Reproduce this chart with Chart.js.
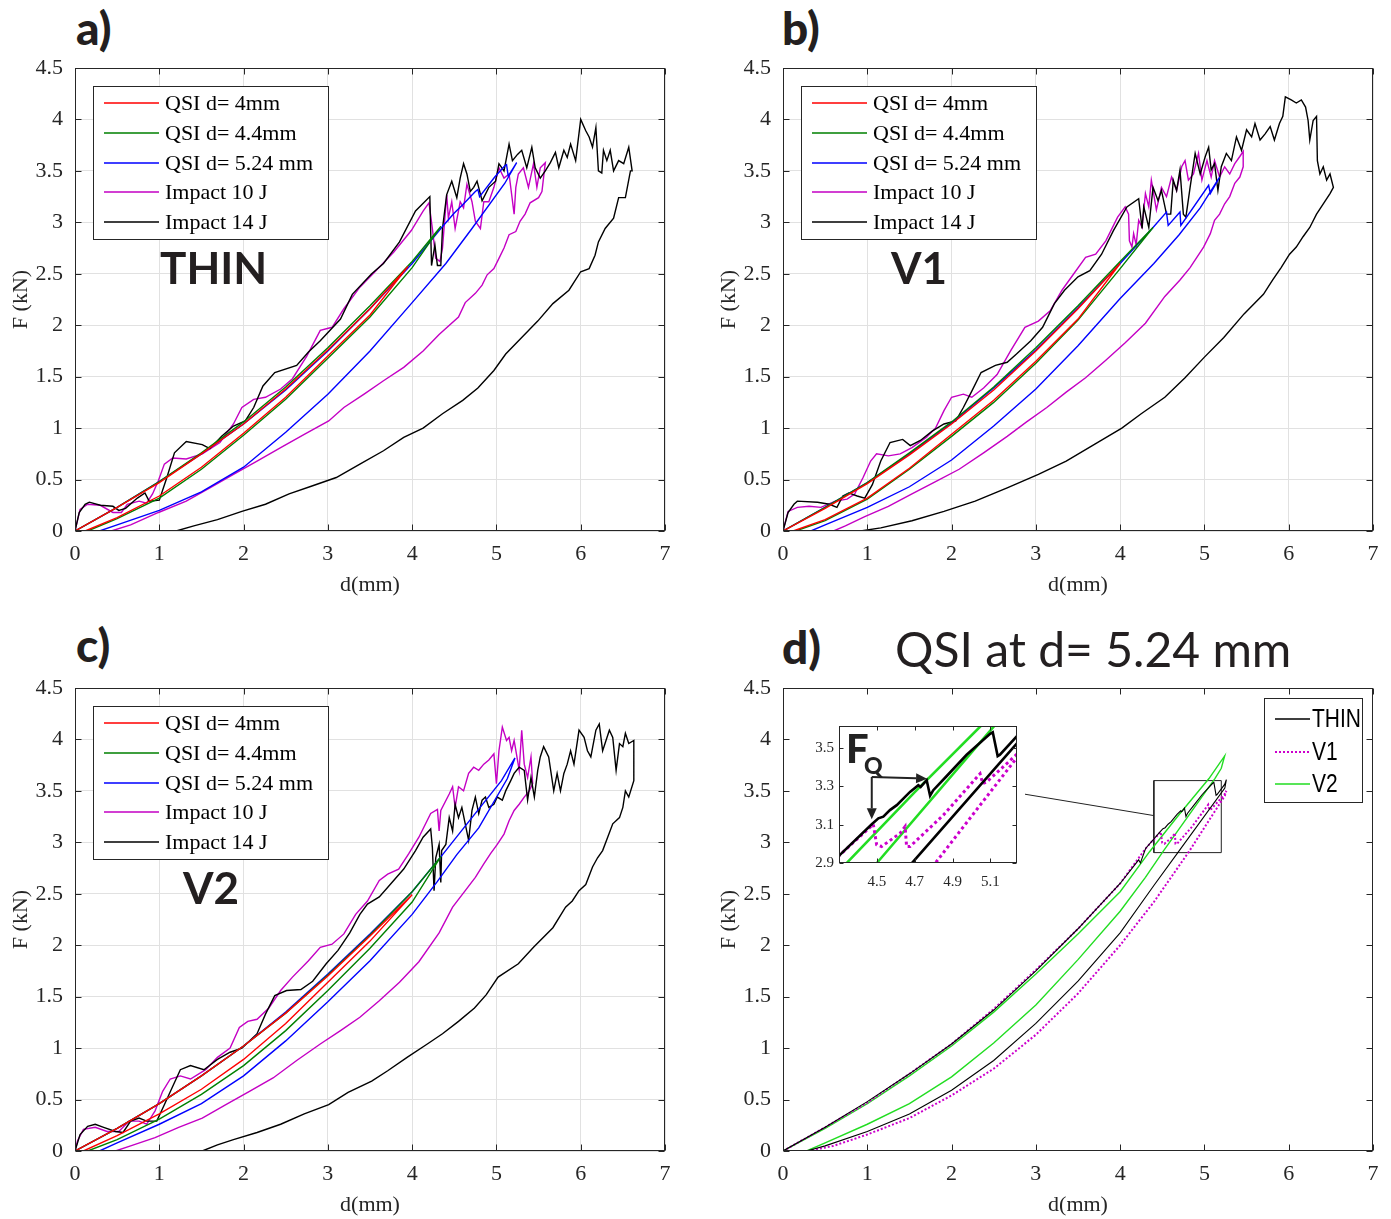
<!DOCTYPE html>
<html>
<head>
<meta charset="utf-8">
<script src="https://cdn.jsdelivr.net/npm/chart.js@4.4.1/dist/chart.umd.min.js"></script>
<style>
  html, body { margin: 0; padding: 0; background: #fff; }
  #page { position: relative; width: 1391px; height: 1219px; overflow: hidden; background: #fff; }
  canvas { position: absolute; }
  .lbl { position: absolute; font-family: Lato, "Open Sans", sans-serif; font-weight: 700; font-size: 44px; line-height: 1; color: #231f20; white-space: nowrap; }
  .tag { font-weight: 900; font-size: 46px; }
  .ttl { font-weight: 400; font-size: 48px; }
</style>
</head>
<body>
<div id="page">
  <canvas id="chartA" width="680" height="560" style="left:0;top:56px"></canvas>
  <canvas id="chartB" width="680" height="560" style="left:708px;top:56px"></canvas>
  <canvas id="chartC" width="680" height="560" style="left:0;top:676px"></canvas>
  <canvas id="chartD" width="680" height="560" style="left:708px;top:676px"></canvas>
  <canvas id="inset" width="220" height="178" style="left:805px;top:722px"></canvas>
  <div class="lbl tag" style="left:76px;top:5px">a)</div>
  <div class="lbl tag" style="left:782px;top:5px">b)</div>
  <div class="lbl tag" style="left:76px;top:622px">c)</div>
  <div class="lbl tag" style="left:782px;top:624px">d)</div>
  <div class="lbl ttl" style="left:895px;top:625px">QSI at d= 5.24 mm</div>
  <div class="lbl" style="left:160px;top:245px">THIN</div>
  <div class="lbl" style="left:891px;top:245px">V1</div>
  <div class="lbl" style="left:183px;top:865px">V2</div>
</div>
<script>
// ---- data: d (mm), F (kN) ----
// a) THIN
const thinQsi4 = [[0,0],[0.5,0.23],[1,0.47],[1.5,0.75],[2,1.04],[2.5,1.38],[3,1.76],[3.5,2.16],[3.95,2.57],[3.5,2.1],[3,1.7],[2.5,1.3],[2,0.95],[1.5,0.62],[1,0.34],[0.5,0.13],[0.12,0]];
const thinQsi44 = [[0,0],[0.5,0.23],[1,0.48],[1.5,0.76],[2,1.06],[2.5,1.4],[3,1.78],[3.5,2.19],[4,2.62],[4.34,2.96],[4,2.56],[3.5,2.08],[3,1.68],[2.5,1.28],[2,0.93],[1.5,0.6],[1,0.32],[0.5,0.12],[0.15,0]];
const thinQsi524 = [[0,0],[0.5,0.23],[1,0.48],[1.5,0.75],[2,1.04],[2.5,1.37],[3,1.75],[3.5,2.16],[4,2.6],[4.34,2.94],[4.5,3.09],[4.6,3.17],[4.75,3.3],[4.78,3.32],[4.8,3.25],[4.98,3.44],[5.1,3.55],[5.12,3.56],[5.14,3.45],[5.24,3.58],[5.1,3.38],[4.71,2.94],[4.4,2.6],[4,2.22],[3.5,1.75],[3,1.33],[2.5,0.96],[2,0.62],[1.5,0.38],[1,0.2],[0.5,0.06],[0.29,0]];
const thinImp10 = [[0,0],[0.06,0.21],[0.15,0.26],[0.3,0.25],[0.45,0.18],[0.55,0.18],[0.62,0.26],[0.76,0.29],[0.85,0.27],[0.92,0.36],[0.99,0.49],[1.06,0.65],[1.16,0.71],[1.32,0.7],[1.51,0.75],[1.72,0.86],[1.88,1.04],[1.98,1.2],[2.12,1.28],[2.26,1.3],[2.44,1.38],[2.58,1.48],[2.75,1.7],[2.91,1.95],[3.05,1.98],[3.19,2.16],[3.38,2.37],[3.57,2.53],[3.78,2.71],[3.99,2.92],[4.13,3.11],[4.2,3.19],[4.24,2.94],[4.28,2.65],[4.33,2.62],[4.36,2.75],[4.41,3.27],[4.43,3.04],[4.47,3.2],[4.51,2.94],[4.57,3.2],[4.61,3.14],[4.65,3.37],[4.71,3.2],[4.75,3.01],[4.81,2.94],[4.85,3.2],[4.91,3.2],[4.97,3.34],[5.03,3.53],[5.09,3.43],[5.15,3.47],[5.21,3.08],[5.23,3.34],[5.26,3.47],[5.32,3.53],[5.38,3.34],[5.44,3.57],[5.48,3.34],[5.52,3.53],[5.58,3.58],[5.54,3.3],[5.5,3.24],[5.4,3.19],[5.34,3.08],[5.28,3.01],[5.23,2.91],[5.15,2.88],[5.09,2.75],[5.03,2.65],[4.97,2.55],[4.89,2.49],[4.83,2.39],[4.75,2.31],[4.63,2.22],[4.55,2.08],[4.32,1.91],[4.13,1.75],[3.9,1.59],[3.66,1.46],[3.43,1.33],[3.19,1.2],[3.01,1.07],[2.72,0.94],[2.44,0.81],[2.16,0.68],[1.88,0.55],[1.6,0.42],[1.32,0.29],[0.99,0.18],[0.66,0.06],[0.43,0]];
const thinImp14 = [[0,0],[0.05,0.18],[0.12,0.26],[0.17,0.28],[0.3,0.25],[0.45,0.24],[0.52,0.2],[0.6,0.22],[0.74,0.32],[0.83,0.37],[0.88,0.29],[1.0,0.3],[1.09,0.52],[1.18,0.76],[1.32,0.87],[1.51,0.84],[1.6,0.8],[1.74,0.92],[1.88,1.02],[2.02,1.07],[2.12,1.2],[2.23,1.41],[2.37,1.54],[2.63,1.61],[2.77,1.74],[2.91,1.85],[3.15,2.06],[3.29,2.3],[3.52,2.5],[3.66,2.6],[3.85,2.81],[4.04,3.11],[4.21,3.25],[4.23,2.58],[4.27,2.78],[4.3,2.58],[4.34,2.58],[4.36,2.94],[4.41,3.27],[4.47,3.4],[4.53,3.24],[4.57,3.43],[4.61,3.57],[4.65,3.47],[4.69,3.3],[4.73,3.34],[4.77,3.4],[4.83,3.21],[4.91,3.34],[4.99,3.4],[5.03,3.57],[5.09,3.5],[5.15,3.76],[5.19,3.6],[5.25,3.66],[5.3,3.7],[5.36,3.53],[5.42,3.73],[5.46,3.53],[5.52,3.43],[5.58,3.5],[5.64,3.58],[5.7,3.68],[5.74,3.53],[5.8,3.7],[5.84,3.63],[5.88,3.76],[5.94,3.6],[6.0,4.0],[6.06,3.89],[6.1,3.83],[6.14,3.73],[6.18,3.92],[6.21,3.5],[6.25,3.48],[6.27,3.7],[6.31,3.6],[6.35,3.7],[6.39,3.5],[6.45,3.6],[6.51,3.57],[6.57,3.73],[6.61,3.5],[6.59,3.5],[6.53,3.24],[6.45,3.24],[6.39,3.04],[6.29,2.94],[6.21,2.81],[6.17,2.68],[6.1,2.55],[6.0,2.52],[5.86,2.34],[5.67,2.21],[5.49,2.04],[5.3,1.88],[5.11,1.72],[4.97,1.56],[4.78,1.39],[4.6,1.27],[4.36,1.14],[4.13,1.0],[3.9,0.91],[3.66,0.78],[3.38,0.65],[3.1,0.52],[2.82,0.44],[2.54,0.36],[2.26,0.26],[1.98,0.19],[1.69,0.11],[1.41,0.05],[1.2,0]];

// b) V1
const v1Qsi4 = [[0,0],[0.5,0.22],[1,0.46],[1.5,0.74],[2,1.04],[2.5,1.37],[3,1.75],[3.5,2.16],[4,2.6],[3.5,2.06],[3,1.65],[2.5,1.27],[2,0.94],[1.5,0.61],[1,0.32],[0.5,0.11],[0.12,0]];
const v1Qsi44 = [[0,0],[0.5,0.23],[1,0.47],[1.5,0.76],[2,1.06],[2.5,1.4],[3,1.78],[3.5,2.19],[4,2.62],[4.39,2.95],[4,2.55],[3.5,2.05],[3,1.63],[2.5,1.25],[2,0.92],[1.5,0.6],[1,0.31],[0.5,0.1],[0.15,0]];
const v1Qsi524 = [[0,0],[0.5,0.23],[1,0.47],[1.5,0.75],[2,1.05],[2.5,1.39],[3,1.76],[3.5,2.17],[4,2.6],[4.39,2.95],[4.55,3.1],[4.57,2.97],[4.71,3.1],[4.72,2.97],[5.05,3.36],[5.07,3.28],[5.18,3.44],[4.95,3.14],[4.7,2.88],[4.4,2.6],[4,2.26],[3.5,1.8],[3,1.38],[2.5,1.02],[2,0.69],[1.5,0.43],[1,0.23],[0.5,0.06],[0.33,0]];
const v1Imp10 = [[0,0],[0.06,0.19],[0.17,0.23],[0.31,0.24],[0.45,0.23],[0.62,0.29],[0.76,0.31],[0.85,0.36],[0.95,0.52],[1.04,0.68],[1.11,0.75],[1.25,0.73],[1.39,0.75],[1.53,0.81],[1.7,0.91],[1.81,1.0],[1.91,1.17],[2.0,1.3],[2.14,1.33],[2.24,1.3],[2.38,1.39],[2.54,1.52],[2.7,1.75],[2.87,1.98],[3.03,2.04],[3.17,2.14],[3.31,2.34],[3.45,2.5],[3.59,2.66],[3.71,2.69],[3.83,2.82],[3.97,3.05],[4.06,3.15],[4.1,3.08],[4.11,2.82],[4.14,2.76],[4.16,2.89],[4.19,2.78],[4.22,3.02],[4.26,2.95],[4.3,3.28],[4.34,3.15],[4.37,3.41],[4.43,3.12],[4.49,3.34],[4.55,3.25],[4.61,3.44],[4.67,3.31],[4.73,3.54],[4.77,3.6],[4.81,3.41],[4.87,3.47],[4.93,3.67],[4.97,3.41],[5.03,3.6],[5.08,3.44],[5.12,3.6],[5.18,3.44],[5.24,3.54],[5.3,3.47],[5.36,3.57],[5.42,3.64],[5.46,3.69],[5.46,3.54],[5.42,3.44],[5.36,3.38],[5.3,3.25],[5.24,3.18],[5.18,3.08],[5.12,3.02],[5.07,2.89],[4.99,2.76],[4.91,2.66],[4.83,2.56],[4.71,2.44],[4.53,2.28],[4.3,2.02],[4.06,1.83],[3.83,1.66],[3.59,1.49],[3.36,1.35],[3.13,1.2],[2.89,1.06],[2.66,0.92],[2.38,0.76],[2.09,0.6],[1.81,0.48],[1.53,0.36],[1.25,0.24],[0.97,0.14],[0.74,0.05],[0.6,0]];
const v1Imp14 = [[0,0],[0.06,0.18],[0.13,0.26],[0.17,0.29],[0.41,0.28],[0.55,0.26],[0.64,0.23],[0.71,0.34],[0.78,0.37],[0.88,0.34],[0.97,0.32],[1.06,0.45],[1.16,0.68],[1.27,0.86],[1.42,0.89],[1.51,0.83],[1.63,0.88],[1.77,0.97],[1.91,1.04],[2.05,1.07],[2.14,1.2],[2.24,1.36],[2.35,1.54],[2.52,1.61],[2.66,1.64],[2.77,1.72],[2.94,1.85],[3.08,1.98],[3.22,2.21],[3.34,2.34],[3.5,2.47],[3.64,2.53],[3.78,2.69],[3.92,2.92],[4.08,3.15],[4.22,3.23],[4.26,2.94],[4.28,3.15],[4.34,2.95],[4.39,3.34],[4.45,3.21],[4.49,3.31],[4.55,3.08],[4.6,3.08],[4.63,3.41],[4.67,3.31],[4.71,3.51],[4.75,3.08],[4.78,3.05],[4.83,3.34],[4.89,3.67],[4.95,3.47],[5.01,3.64],[5.05,3.73],[5.08,3.51],[5.12,3.57],[5.16,3.31],[5.2,3.54],[5.26,3.67],[5.32,3.6],[5.38,3.83],[5.44,3.7],[5.5,3.9],[5.56,3.83],[5.6,3.96],[5.66,3.8],[5.72,3.86],[5.78,3.93],[5.83,3.8],[5.89,3.96],[5.93,4.03],[5.96,4.22],[6.03,4.19],[6.09,4.16],[6.15,4.19],[6.2,4.12],[6.23,3.99],[6.25,3.8],[6.29,3.99],[6.33,4.03],[6.34,3.6],[6.37,3.47],[6.41,3.54],[6.45,3.41],[6.49,3.47],[6.53,3.34],[6.49,3.28],[6.41,3.18],[6.33,3.08],[6.25,2.95],[6.17,2.86],[6.09,2.76],[6.01,2.69],[5.91,2.56],[5.81,2.44],[5.7,2.3],[5.47,2.11],[5.23,1.88],[5.0,1.69],[4.77,1.49],[4.53,1.3],[4.25,1.14],[4.02,1.0],[3.69,0.84],[3.36,0.68],[3.03,0.55],[2.66,0.42],[2.28,0.29],[1.91,0.19],[1.53,0.1],[1.16,0.03],[0.92,0]];

// c) V2
const v2Qsi4 = [[0,0],[0.5,0.22],[1,0.46],[1.5,0.73],[2,1.02],[2.5,1.34],[3,1.7],[3.5,2.09],[4,2.49],[3.5,2.04],[3,1.64],[2.5,1.24],[2,0.89],[1.5,0.6],[1,0.36],[0.5,0.15],[0.1,0]];
const v2Qsi44 = [[0,0],[0.5,0.22],[1,0.46],[1.5,0.73],[2,1.02],[2.5,1.34],[3,1.71],[3.5,2.1],[4,2.52],[4.34,2.86],[4,2.42],[3.5,1.97],[3,1.56],[2.5,1.17],[2,0.83],[1.5,0.55],[1,0.31],[0.5,0.11],[0.15,0]];
const v2Qsi524 = [[0,0],[0.5,0.22],[1,0.46],[1.5,0.73],[2,1.02],[2.5,1.35],[3,1.72],[3.5,2.11],[4,2.52],[4.38,2.9],[4.7,3.23],[5.06,3.6],[5.22,3.82],[5.13,3.62],[4.79,3.14],[4.53,2.88],[4.3,2.62],[4,2.3],[3.5,1.85],[3,1.45],[2.5,1.07],[2,0.73],[1.5,0.46],[1,0.26],[0.5,0.08],[0.29,0]];
const v2Imp10 = [[0,0],[0.03,0.1],[0.1,0.21],[0.24,0.23],[0.38,0.19],[0.52,0.19],[0.64,0.29],[0.76,0.29],[0.85,0.26],[0.95,0.39],[1.04,0.58],[1.13,0.7],[1.25,0.73],[1.37,0.7],[1.55,0.79],[1.69,0.91],[1.84,1.0],[1.95,1.2],[2.05,1.26],[2.16,1.28],[2.3,1.39],[2.44,1.56],[2.58,1.69],[2.77,1.85],[2.91,1.98],[3.05,2.01],[3.19,2.11],[3.33,2.3],[3.47,2.43],[3.61,2.63],[3.71,2.69],[3.84,2.74],[3.96,2.89],[4.08,3.05],[4.22,3.28],[4.3,3.32],[4.32,3.11],[4.34,3.31],[4.44,3.47],[4.48,3.54],[4.51,3.34],[4.55,3.54],[4.61,3.5],[4.67,3.67],[4.73,3.73],[4.79,3.7],[4.85,3.76],[4.91,3.8],[4.97,3.86],[5.0,3.57],[5.03,3.89],[5.07,4.12],[5.12,3.99],[5.15,4.02],[5.18,3.89],[5.21,3.99],[5.25,3.8],[5.27,3.7],[5.3,4.09],[5.33,3.76],[5.37,3.63],[5.41,3.83],[5.43,3.57],[5.39,3.5],[5.33,3.44],[5.27,3.37],[5.21,3.31],[5.15,3.21],[5.09,3.08],[5.01,2.98],[4.93,2.89],[4.85,2.79],[4.75,2.66],[4.63,2.53],[4.48,2.37],[4.32,2.12],[4.08,1.84],[3.85,1.64],[3.61,1.46],[3.38,1.3],[3.15,1.17],[2.91,1.04],[2.63,0.88],[2.35,0.71],[2.07,0.58],[1.79,0.45],[1.51,0.32],[1.23,0.23],[0.95,0.13],[0.66,0.05],[0.48,0]];
const v2Imp14 = [[0,0],[0.06,0.16],[0.15,0.24],[0.24,0.26],[0.34,0.23],[0.48,0.19],[0.57,0.18],[0.66,0.29],[0.76,0.32],[0.85,0.29],[0.97,0.29],[1.06,0.45],[1.16,0.63],[1.25,0.79],[1.37,0.83],[1.53,0.79],[1.69,0.89],[1.84,0.96],[1.98,1.0],[2.07,1.07],[2.16,1.14],[2.26,1.33],[2.37,1.51],[2.51,1.56],[2.68,1.57],[2.82,1.65],[2.98,1.82],[3.12,1.95],[3.26,2.12],[3.38,2.3],[3.47,2.4],[3.61,2.47],[3.75,2.6],[3.9,2.74],[4.04,2.92],[4.13,3.05],[4.22,3.13],[4.24,2.95],[4.26,2.53],[4.28,2.85],[4.32,2.98],[4.34,2.61],[4.35,2.92],[4.4,2.98],[4.44,3.24],[4.48,3.11],[4.51,3.37],[4.55,3.24],[4.59,3.34],[4.63,3.18],[4.67,3.02],[4.71,3.31],[4.75,3.44],[4.79,3.28],[4.83,3.41],[4.87,3.44],[4.91,3.34],[4.97,3.37],[5.01,3.44],[5.07,3.41],[5.11,3.5],[5.17,3.6],[5.21,3.67],[5.27,3.73],[5.33,3.7],[5.37,3.41],[5.41,3.63],[5.45,3.44],[5.49,3.7],[5.52,3.83],[5.56,3.93],[5.62,3.83],[5.68,3.5],[5.72,3.67],[5.76,3.5],[5.8,3.67],[5.84,3.76],[5.88,3.89],[5.92,3.76],[5.98,4.09],[6.04,4.02],[6.08,3.89],[6.12,3.83],[6.18,4.09],[6.22,4.15],[6.26,3.89],[6.3,3.99],[6.34,4.09],[6.38,4.02],[6.42,3.7],[6.46,3.96],[6.5,3.93],[6.53,4.06],[6.57,3.96],[6.63,3.99],[6.63,3.6],[6.57,3.44],[6.53,3.5],[6.5,3.34],[6.46,3.24],[6.38,3.18],[6.32,3.05],[6.26,2.92],[6.2,2.85],[6.14,2.76],[6.06,2.59],[5.98,2.53],[5.9,2.43],[5.82,2.37],[5.67,2.17],[5.44,1.98],[5.26,1.82],[5.02,1.69],[4.88,1.52],[4.74,1.39],[4.55,1.26],[4.36,1.14],[4.18,1.04],[3.94,0.91],[3.71,0.78],[3.52,0.68],[3.24,0.57],[3.01,0.45],[2.72,0.36],[2.44,0.26],[2.16,0.18],[1.88,0.11],[1.69,0.06],[1.51,0]];

// d) QSI at d = 5.24 mm for the three layups
const dThin = [[0,0],[0.5,0.23],[1,0.48],[1.5,0.75],[2,1.04],[2.5,1.37],[3,1.75],[3.5,2.16],[4,2.6],[4.22,2.83],[4.24,2.8],[4.302,2.94],[4.473,3.102],[4.508,3.133],[4.534,3.142],[4.569,3.176],[4.605,3.202],[4.675,3.271],[4.719,3.306],[4.731,3.297],[4.763,3.332],[4.781,3.251],[4.798,3.28],[4.869,3.354],[4.974,3.465],[5.098,3.574],[5.112,3.582],[5.138,3.458],[5.15,3.465],[5.242,3.565],[5.26,3.61],[5.242,3.527],[4.693,2.909],[4.4,2.58],[4,2.12],[3.5,1.65],[3,1.24],[2.5,0.88],[2,0.59],[1.5,0.36],[1,0.19],[0.5,0.05],[0.28,0]];
const dV1 = [[0,0],[0.5,0.23],[1,0.47],[1.5,0.75],[2,1.04],[2.5,1.38],[3,1.76],[3.5,2.16],[4,2.6],[4.302,2.94],[4.481,3.102],[4.499,2.995],[4.525,2.986],[4.622,3.055],[4.649,3.09],[4.657,2.986],[4.675,2.986],[4.851,3.15],[5.045,3.366],[5.059,3.315],[5.08,3.323],[5.242,3.47],[5.26,3.5],[5.242,3.453],[4.816,2.909],[4.4,2.42],[4,2.0],[3.5,1.53],[3,1.13],[2.5,0.8],[2,0.54],[1.5,0.32],[1,0.16],[0.6,0.05],[0.3,0]];
const dV2 = [[0,0],[0.5,0.22],[1,0.46],[1.5,0.73],[2,1.02],[2.5,1.35],[3,1.72],[3.5,2.11],[4,2.52],[4.349,2.909],[4.7,3.27],[5.054,3.62],[5.24,3.84],[5.2,3.72],[5.124,3.62],[4.508,2.909],[4.3,2.66],[4,2.33],[3.5,1.86],[3,1.42],[2.5,1.05],[2,0.72],[1.5,0.46],[1,0.26],[0.5,0.08],[0.28,0]];

// zoom window in d), its leader line, and the F_Q arrows of the inset
const zoomBox = [[4.4,2.9],[5.2,2.9],[5.2,3.6],[4.4,3.6],[4.4,2.9]];
const zoomLink = [[2.78,3.48],[4.4,3.26]];
const arrowDown = [[4.473,3.349],[4.473,3.128]];
const arrowRight = [[4.473,3.349],[4.765,3.34]];
const insetXTicks = [4.5, 4.7, 4.9, 5.1];
const insetYTicks = [2.9, 3.1, 3.3, 3.5];
const legendNames = ['QSI d= 4mm', 'QSI d= 4.4mm', 'QSI d= 5.24 mm', 'Impact 10 J', 'Impact 14 J'];
const legendNamesD = ['THIN', 'V1', 'V2'];

const serif = '"Liberation Serif", "Times New Roman", serif';
const ink = '#262626';
const col = { red: '#ff0000', green: '#008000', blue: '#0000ff', mag: '#c400c4', black: '#000000', lime: '#22dd22', dot: '#cc00cc' };

const pts = a => a.map(([x, y]) => ({ x, y }));

function curve(data, color, label, extra) {
  return Object.assign({
    label: label, data: pts(data), showLine: true, borderColor: color, backgroundColor: color,
    borderWidth: 1.4, pointRadius: 0, tension: 0, inLegend: !!label, keyColor: color
  }, extra || {});
}

// MATLAB-like box with inward ticks on all four sides
const axesBox = {
  id: 'axesBox',
  afterDatasetsDraw(chart, args, o) {
    const { ctx, chartArea: a, scales: { x, y } } = chart;
    const L = Math.round(a.left) + 0.5, R = Math.round(a.right) - 0.5;
    const T = Math.round(a.top) + 0.5, B = Math.round(a.bottom) - 0.5;
    ctx.save();
    ctx.strokeStyle = ink;
    ctx.lineWidth = 1;
    ctx.beginPath();
    x.ticks.forEach(t => {
      const p = Math.round(x.getPixelForValue(t.value)) + 0.5;
      ctx.moveTo(p, B); ctx.lineTo(p, B - o.len);
      ctx.moveTo(p, T); ctx.lineTo(p, T + o.len);
    });
    y.ticks.forEach(t => {
      const p = Math.round(y.getPixelForValue(t.value)) + 0.5;
      ctx.moveTo(L, p); ctx.lineTo(L + o.len, p);
      ctx.moveTo(R, p); ctx.lineTo(R - o.len, p);
    });
    ctx.stroke();
    ctx.strokeRect(L, T, R - L, B - T);
    ctx.restore();
  }
};

// legend drawn inside the plot, in a framed box
const boxLegend = {
  id: 'boxLegend',
  afterDatasetsDraw(chart, args, o) {
    if (!o || !o.w) return;
    const { ctx, chartArea: a } = chart;
    const x0 = Math.round(a.left + o.x), y0 = Math.round(a.top + o.y);
    ctx.save();
    ctx.fillStyle = '#fff';
    ctx.fillRect(x0, y0, o.w, o.h);
    ctx.strokeStyle = ink; ctx.lineWidth = 1;
    ctx.strokeRect(x0 + 0.5, y0 + 0.5, o.w, o.h);
    chart.data.datasets.filter(d => d.inLegend).forEach((d, i) => {
      const cy = Math.round(y0 + o.first + i * o.row);
      ctx.fillStyle = d.keyColor;
      if (d.borderDash) {
        for (let k = x0 + o.k0; k < x0 + o.k1; k += 4) ctx.fillRect(k, cy - 1, 2, 2);
      } else {
        ctx.fillRect(x0 + o.k0, cy - 0.75, o.k1 - o.k0, 1.5);
      }
      ctx.fillStyle = '#000'; ctx.font = o.font; ctx.textBaseline = 'middle';
      ctx.save(); ctx.translate(x0 + o.tx, cy + 1); ctx.scale(o.sx || 1, 1);
      ctx.fillText(d.label, 0, 0); ctx.restore();
    });
    ctx.restore();
  }
};

function arrow(ctx, x, y, seg) {
  const x0 = x.getPixelForValue(seg[0][0]), y0 = y.getPixelForValue(seg[0][1]);
  const x1 = x.getPixelForValue(seg[1][0]), y1 = y.getPixelForValue(seg[1][1]);
  const ang = Math.atan2(y1 - y0, x1 - x0), len = 11, half = 5;
  const bx = x1 - len * Math.cos(ang), by = y1 - len * Math.sin(ang);
  ctx.beginPath(); ctx.moveTo(x0, y0); ctx.lineTo(bx, by); ctx.stroke();
  ctx.beginPath(); ctx.moveTo(x1, y1);
  ctx.lineTo(bx + half * Math.sin(ang), by - half * Math.cos(ang));
  ctx.lineTo(bx - half * Math.sin(ang), by + half * Math.cos(ang));
  ctx.closePath(); ctx.fill();
}

const insetMarks = {
  id: 'insetMarks',
  beforeDraw(chart) {
    const { ctx, width, height } = chart;
    ctx.save(); ctx.fillStyle = '#fff'; ctx.fillRect(0, 0, width, height); ctx.restore();
  },
  afterDatasetsDraw(chart) {
    const { ctx, chartArea: a, scales: { x, y } } = chart;
    ctx.save();
    ctx.fillStyle = '#222'; ctx.strokeStyle = '#222'; ctx.lineWidth = 2;
    ctx.textBaseline = 'alphabetic';
    ctx.font = '900 40px Lato, sans-serif';
    ctx.fillText('F', a.left + 7, a.top + 37);
    ctx.font = '900 23px Lato, sans-serif';
    ctx.fillText('Q', a.left + 25, a.top + 48);
    arrow(ctx, x, y, arrowDown);
    arrow(ctx, x, y, arrowRight);
    ctx.restore();
  }
};

function makeChart(id, sets, o) {
  const tickFont = { family: serif, size: o.fs };
  return new Chart(document.getElementById(id), {
    type: 'scatter',
    data: { datasets: sets },
    options: {
      responsive: false,
      animation: false,
      devicePixelRatio: 1,
      events: [],
      layout: { padding: { top: o.padT, right: o.padR, left: 0, bottom: 0 } },
      plugins: {
        legend: { display: false },
        tooltip: { enabled: false },
        axesBox: { len: o.tick },
        boxLegend: o.legend || {}
      },
      scales: {
        x: {
          type: 'linear', min: o.xr[0], max: o.xr[1],
          ticks: { stepSize: o.xs, color: ink, font: tickFont, padding: o.xp, maxRotation: 0, autoSkip: false, callback: o.fmt },
          grid: { display: o.grid, color: '#e1e1e1', lineWidth: 1, drawTicks: false },
          border: { display: false },
          title: { display: !!o.xt, text: o.xt, color: ink, font: tickFont, padding: { top: 0, bottom: 18 } },
          afterBuildTicks: s => { if (o.xv) s.ticks = o.xv.map(v => ({ value: v })); },
          afterFit: s => { s.height = o.xh; s.paddingLeft = 0; s.paddingRight = 0; }
        },
        y: {
          type: 'linear', min: o.yr[0], max: o.yr[1],
          ticks: { stepSize: o.ys, color: ink, font: tickFont, padding: o.yp, autoSkip: false, callback: o.fmt },
          grid: { display: o.grid, color: '#e1e1e1', lineWidth: 1, drawTicks: false },
          border: { display: false },
          title: { display: !!o.yt, text: o.yt, color: ink, font: tickFont, padding: { top: 8, bottom: 0 } },
          afterBuildTicks: s => { if (o.yv) s.ticks = o.yv.map(v => ({ value: v })); },
          afterFit: s => { s.width = o.yw; s.paddingTop = 0; s.paddingBottom = 0; }
        }
      }
    },
    plugins: o.extra ? [axesBox, boxLegend, o.extra] : [axesBox, boxLegend]
  });
}

const fmtMain = v => String(Math.round(v * 10) / 10);
const mainAxes = {
  fs: 22, xr: [0, 7], yr: [0, 4.5], xs: 1, ys: 0.5, xp: 10, yp: 12,
  xt: 'd(mm)', yt: 'F (kN)', xh: 85, yw: 75, padT: 12, padR: 15, tick: 6, fmt: fmtMain
};
const mainLegend = { x: 18, y: 18, w: 235, h: 153, first: 17, row: 29.75, k0: 11, k1: 66, tx: 72, font: '22px ' + serif };

function panelSets(q4, q44, q524, i10, i14) {
  return [
    curve(q4, col.red, legendNames[0], { order: 0 }),
    curve(q44, col.green, legendNames[1], { order: 0 }),
    curve(q524, col.blue, legendNames[2], { order: 0 }),
    curve(i10, col.mag, legendNames[3], { order: 2 }),
    curve(i14, col.black, legendNames[4], { order: 1 })
  ];
}

makeChart('chartA', panelSets(thinQsi4, thinQsi44, thinQsi524, thinImp10, thinImp14), Object.assign({ grid: true, legend: mainLegend }, mainAxes));
makeChart('chartB', panelSets(v1Qsi4, v1Qsi44, v1Qsi524, v1Imp10, v1Imp14), Object.assign({ grid: true, legend: mainLegend }, mainAxes));
makeChart('chartC', panelSets(v2Qsi4, v2Qsi44, v2Qsi524, v2Imp10, v2Imp14), Object.assign({ grid: true, legend: mainLegend }, mainAxes));

makeChart('chartD', [
  curve(dThin, col.black, legendNamesD[0], { borderWidth: 1.1 }),
  curve(dV1, col.dot, legendNamesD[1], { borderWidth: 2, borderDash: [2, 2] }),
  curve(dV2, col.lime, legendNamesD[2], { borderWidth: 1.4 }),
  curve(zoomBox, '#222', null, { borderWidth: 1 }),
  curve(zoomLink, '#222', null, { borderWidth: 1 })
], Object.assign({}, mainAxes, {
  grid: false,
  legend: { x: 481, y: 10, w: 98, h: 104, first: 21, row: 32.5, k0: 11, k1: 46, tx: 48, font: '25px "Liberation Sans", Arial, sans-serif', sx: 0.84 }
}));

makeChart('inset', [
  curve(dThin, col.black, null, { borderWidth: 2.6 }),
  curve(dV1, col.dot, null, { borderWidth: 3, borderDash: [3, 3] }),
  curve(dV2, col.lime, null, { borderWidth: 2.6 })
], {
  fs: 15, xr: [4.3, 5.24], yr: [2.9, 3.615], xv: insetXTicks, yv: insetYTicks, xp: 10, yp: 5,
  xh: 37, yw: 34, padT: 4, padR: 8, tick: 4, grid: false, fmt: v => v.toFixed(1),
  extra: insetMarks
});
</script>
</body>
</html>
